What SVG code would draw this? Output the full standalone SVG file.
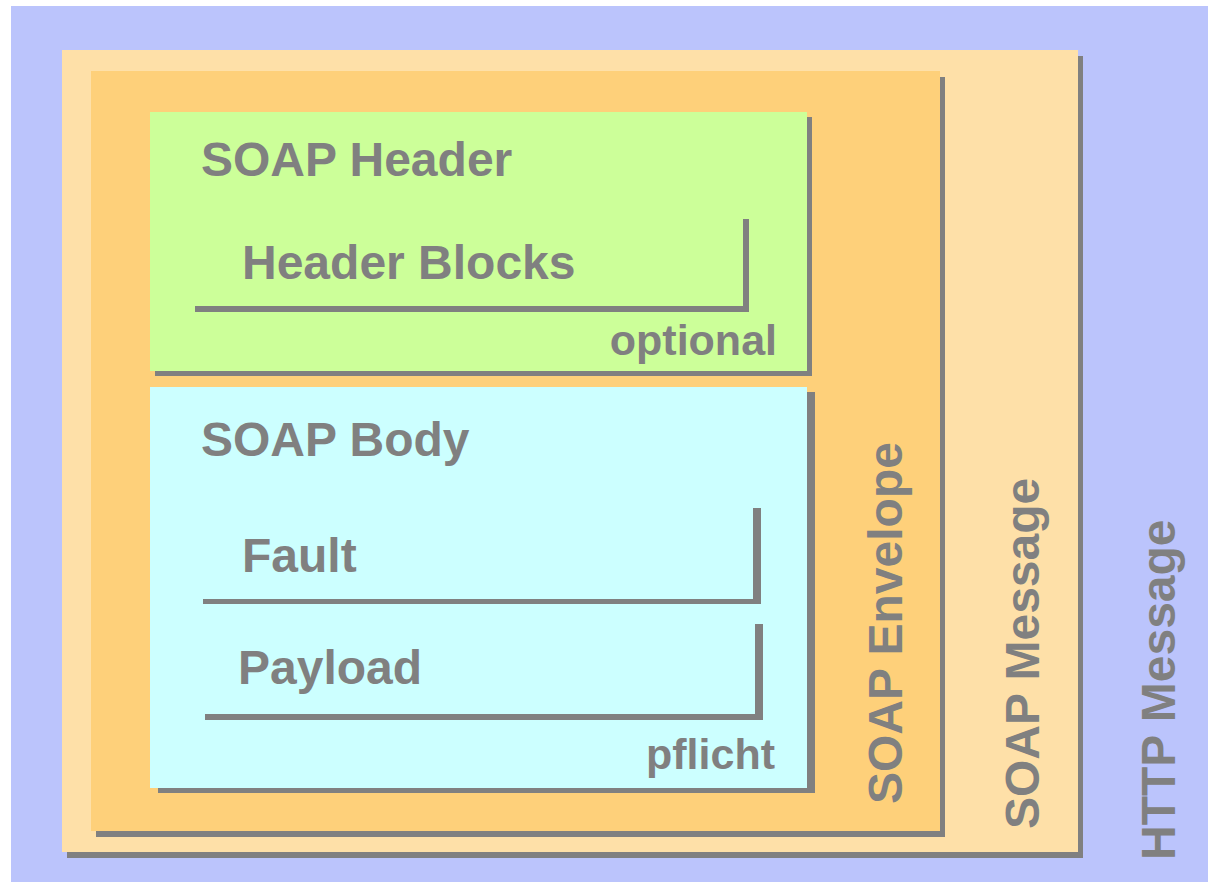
<svg xmlns="http://www.w3.org/2000/svg" width="1208" height="882" viewBox="0 0 1208 882">
  <style>
    .shadow { fill: #808080; }
    .bar { fill: #808080; }
    .label { font-family: "Liberation Sans", Arial, sans-serif; font-weight: bold; fill: #808080; font-size: 48px; }
    .small { font-size: 43px; }
  </style>

  <!-- HTTP message: outermost layer -->
  <g id="http-message">
    <rect x="11" y="6" width="1197" height="876" fill="#BBC4FC"/>
    <text class="label" transform="translate(1175,860) rotate(-90)">HTTP Message</text>
  </g>

  <!-- SOAP message -->
  <g id="soap-message">
    <rect class="shadow" x="67" y="56" width="1016" height="802"/>
    <rect x="62" y="50" width="1016" height="802" fill="#FEE0A8"/>
    <text class="label" transform="translate(1039,829) rotate(-90)">SOAP Message</text>
  </g>

  <!-- SOAP envelope -->
  <g id="soap-envelope">
    <rect class="shadow" x="96" y="77" width="849" height="760"/>
    <rect x="91" y="71" width="849" height="760" fill="#FED07A"/>
    <text class="label" transform="translate(902,804) rotate(-90)">SOAP Envelope</text>
  </g>

  <!-- SOAP header (optional) -->
  <g id="soap-header">
    <rect class="shadow" x="155" y="117" width="657" height="259"/>
    <rect x="150" y="112" width="657" height="259" fill="#CCFF99"/>
    <text class="label" x="201" y="176">SOAP Header</text>
    <text class="label small" x="777" y="355" text-anchor="end">optional</text>
  </g>

  <g id="header-blocks">
    <rect class="bar" x="195" y="306" width="554" height="6"/>
    <rect class="bar" x="743" y="219" width="6" height="93"/>
    <text class="label" x="242" y="279">Header Blocks</text>
  </g>

  <!-- SOAP body (mandatory) -->
  <g id="soap-body">
    <rect class="shadow" x="158" y="392" width="657" height="401"/>
    <rect x="150" y="387" width="657" height="401" fill="#CCFFFF"/>
    <text class="label" x="201" y="456">SOAP Body</text>
    <text class="label small" x="775" y="769" text-anchor="end">pflicht</text>
  </g>

  <g id="fault">
    <rect class="bar" x="203" y="599" width="558" height="5"/>
    <rect class="bar" x="753" y="508" width="8" height="96"/>
    <text class="label" x="242" y="572">Fault</text>
  </g>

  <g id="payload">
    <rect class="bar" x="205" y="714" width="558" height="6"/>
    <rect class="bar" x="755" y="624" width="8" height="96"/>
    <text class="label" x="238" y="684">Payload</text>
  </g>
</svg>
